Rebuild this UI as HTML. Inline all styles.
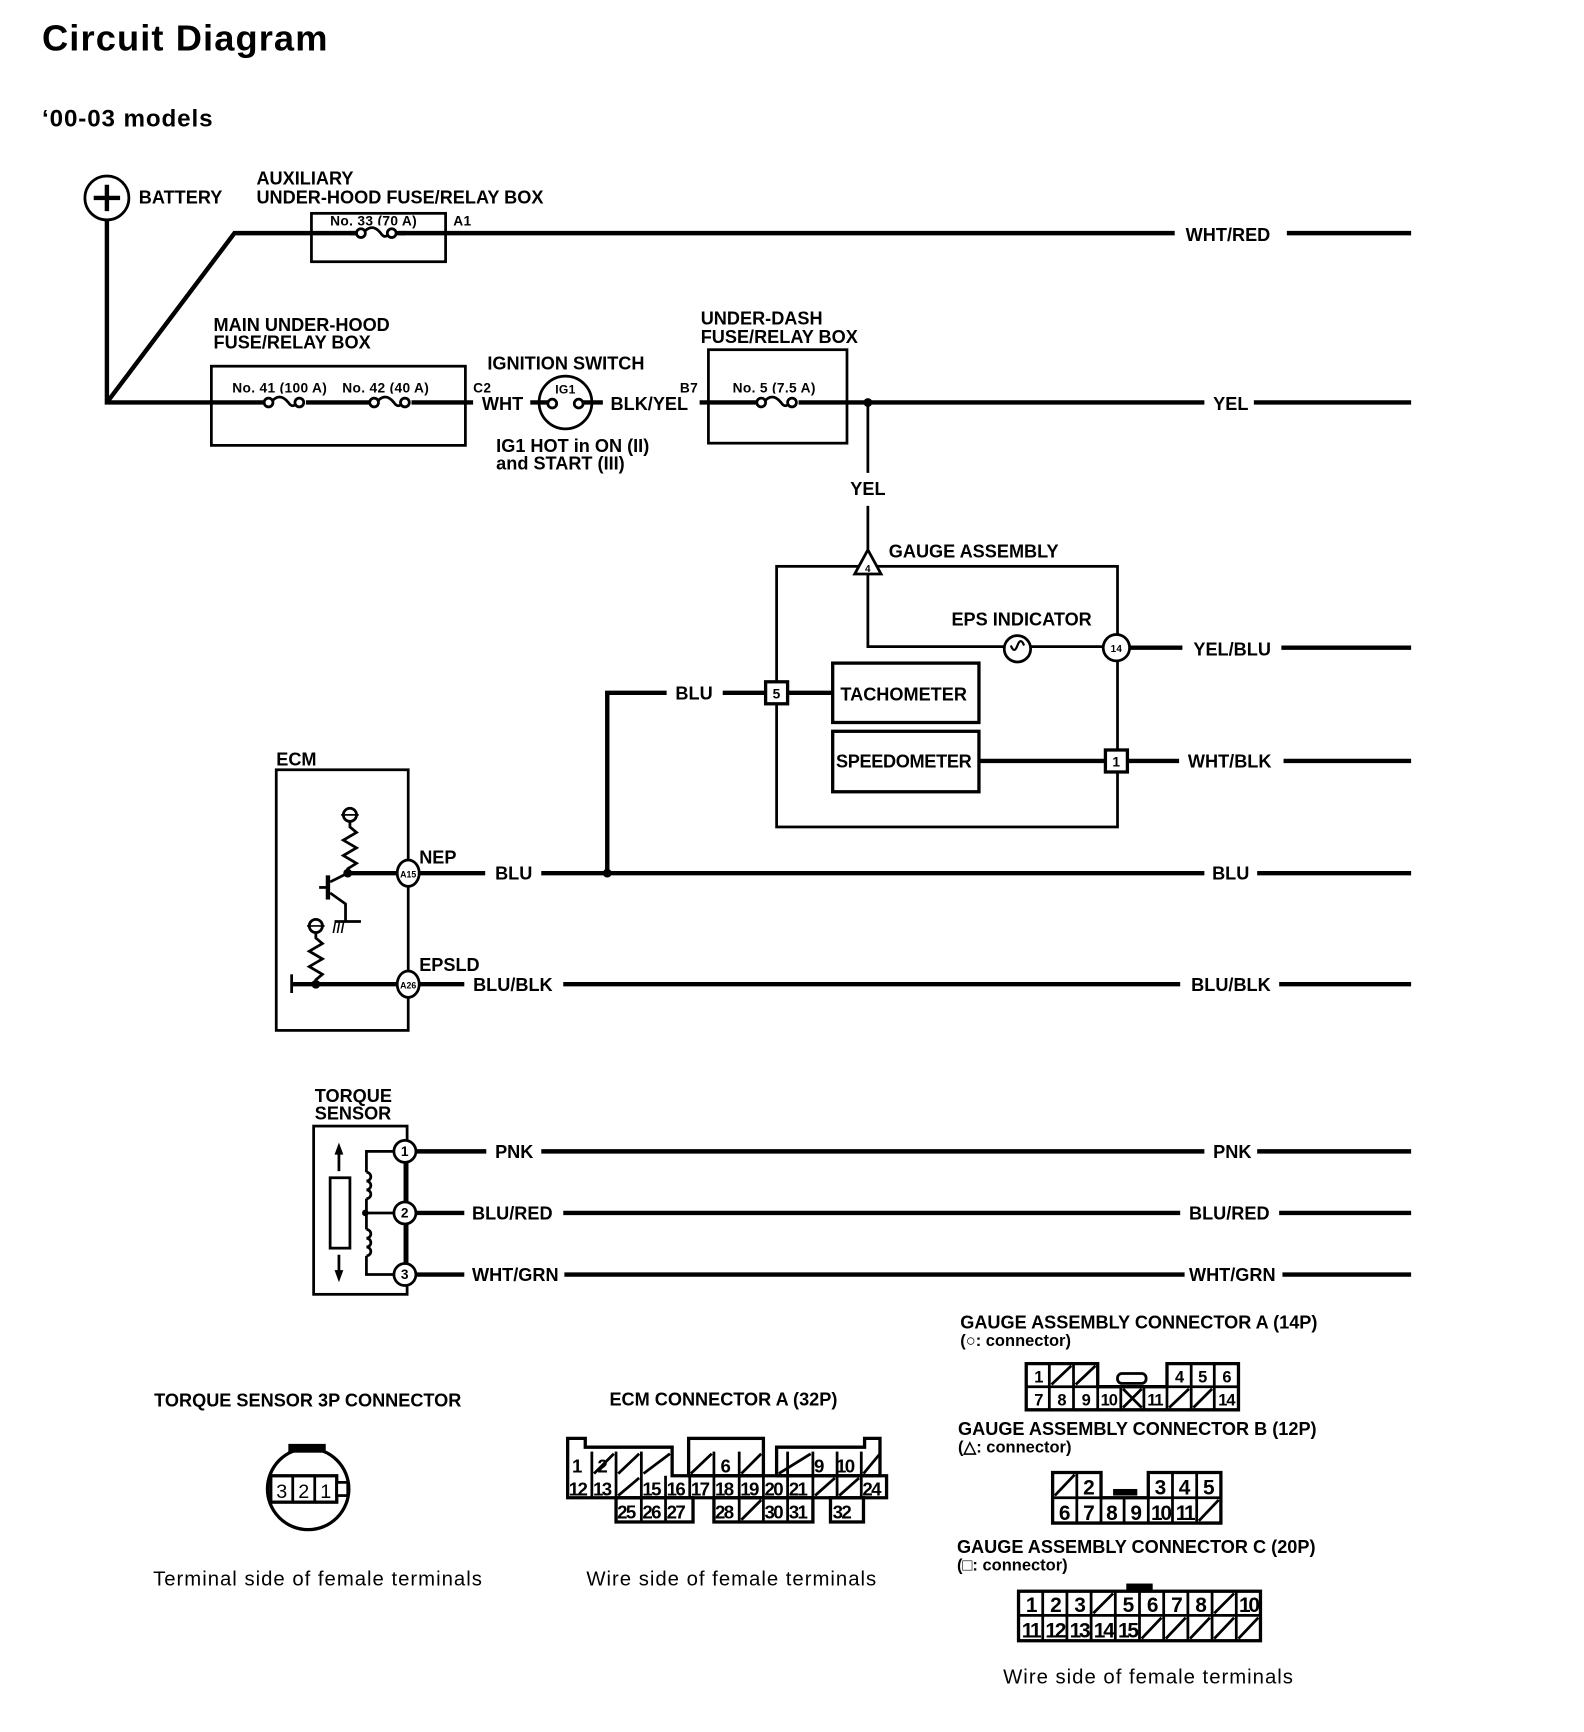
<!DOCTYPE html>
<html><head><meta charset="utf-8"><style>
html,body{margin:0;padding:0;background:#fff}
svg{display:block}
text{font-family:"Liberation Sans",sans-serif;font-weight:bold;fill:#000}
.t{font-size:16.5px;letter-spacing:0px}
.s{font-size:12.5px;letter-spacing:0.3px}
.c{font-size:15px;text-anchor:middle}
.r{font-size:18.5px;font-weight:normal;letter-spacing:0.9px}
.w{stroke:#000;stroke-width:4;fill:none}
.n{stroke:#000;stroke-width:2.5;fill:none}
.b{stroke:#000;stroke-width:2.5;fill:#fff}
.sl{stroke:#000;stroke-width:2.5}
</style></head><body>
<svg width="1584" height="1732" viewBox="0 0 1440 1575" xmlns="http://www.w3.org/2000/svg">
<text x="38" y="46" style="font-size:33px;letter-spacing:1px">Circuit Diagram</text>
<text x="38" y="115" style="font-size:22px;letter-spacing:0.8px">‘00-03 models</text>

<!-- battery -->
<circle cx="97" cy="180" r="20" class="n"/>
<line x1="85" y1="180" x2="109" y2="180" class="w"/><line x1="97" y1="168" x2="97" y2="192" class="w"/>
<text x="126" y="185" class="t">BATTERY</text>
<polyline points="97,200 97,366 430,366" class="w"/>
<polyline points="97,366 213,212 1068,212" class="w"/>
<line x1="1170" y1="212" x2="1283" y2="212" class="w"/>
<text x="1078" y="219" class="t">WHT/RED</text>

<!-- aux box -->
<text x="233" y="168" class="t">AUXILIARY</text>
<text x="233" y="185" class="t">UNDER-HOOD FUSE/RELAY BOX</text>
<rect x="283" y="194" width="122" height="44" class="n"/>
<text x="300" y="205" class="s">No. 33 (70 A)</text>
<text x="412" y="205" class="s">A1</text>
<rect x="324" y="205" width="38" height="14" fill="#fff"/>
<path d="M330,212 q8,-10 16,0 q4,6 8,0" class="n"/>
<circle cx="328" cy="212" r="4" class="b"/><circle cx="356" cy="212" r="4" class="b"/>
<line x1="318" y1="212" x2="324" y2="212" class="w"/><line x1="360" y1="212" x2="368" y2="212" class="w"/>

<!-- main box -->
<text x="194" y="301" class="t">MAIN UNDER-HOOD</text>
<text x="194" y="317" class="t">FUSE/RELAY BOX</text>
<rect x="192" y="333" width="231" height="72" class="n"/>
<text x="211" y="357" class="s">No. 41 (100 A)</text>
<text x="311" y="357" class="s">No. 42 (40 A)</text>
<rect x="240" y="358" width="38" height="14" fill="#fff"/>
<path d="M246,366 q8,-10 16,0 q4,6 8,0" class="n"/>
<circle cx="244" cy="366" r="4" class="b"/><circle cx="272" cy="366" r="4" class="b"/>
<rect x="336" y="358" width="38" height="14" fill="#fff"/>
<path d="M342,366 q8,-10 16,0 q4,6 8,0" class="n"/>
<circle cx="340" cy="366" r="4" class="b"/><circle cx="368" cy="366" r="4" class="b"/>
<text x="430" y="357" class="s">C2</text>
<text x="438" y="373" class="t">WHT</text>
<line x1="482" y1="366" x2="498" y2="366" class="w"/>
<circle cx="514" cy="366" r="24" class="n"/>
<text x="514" y="358" class="s" text-anchor="middle" style="font-size:11px">IG1</text>
<circle cx="502" cy="367" r="4" class="b"/><circle cx="526" cy="367" r="4" class="b"/>
<line x1="530" y1="366" x2="548" y2="366" class="w"/>
<text x="555" y="373" class="t">BLK/YEL</text>
<text x="443" y="336" class="t">IGNITION SWITCH</text>
<text x="451" y="411" class="t">IG1 HOT in ON (II)</text>
<text x="451" y="427" class="t">and START (III)</text>
<text x="618" y="357" class="s">B7</text>

<!-- under dash -->
<text x="637" y="295" class="t">UNDER-DASH</text>
<text x="637" y="312" class="t">FUSE/RELAY BOX</text>
<rect x="644" y="318" width="126" height="85" class="n"/>
<line x1="636" y1="366" x2="1095" y2="366" class="w"/>
<line x1="1140" y1="366" x2="1283" y2="366" class="w"/>
<text x="1103" y="373" class="t">YEL</text>
<text x="666" y="357" class="s">No. 5 (7.5 A)</text>
<rect x="688" y="358" width="38" height="14" fill="#fff"/>
<path d="M694,366 q8,-10 16,0 q4,6 8,0" class="n"/>
<circle cx="692" cy="366" r="4" class="b"/><circle cx="720" cy="366" r="4" class="b"/>
<circle cx="789" cy="366" r="4" fill="#000"/>
<line x1="789" y1="366" x2="789" y2="430" class="n"/>
<line x1="789" y1="460" x2="789" y2="502" class="n"/>
<text x="773" y="450" class="t">YEL</text>

<!-- gauge assembly -->
<rect x="706" y="515" width="310" height="237" class="n"/>
<text x="808" y="507" class="t">GAUGE ASSEMBLY</text>
<polyline points="789,508 789,588 1003,588" class="n"/>
<polygon points="789,500 777,522 801,522" class="b"/>
<text x="789" y="520" class="s" text-anchor="middle" style="font-size:9px">4</text>
<text x="865" y="569" class="t">EPS INDICATOR</text>
<circle cx="925" cy="590" r="12" class="b"/>
<path d="M919,587 q3,8 6,0 q3,-8 6,0" class="n" style="stroke-width:2"/>
<circle cx="1015" cy="589" r="12" class="b"/>
<text x="1015" y="593" class="s" text-anchor="middle" style="font-size:9px">14</text>
<line x1="1027" y1="589" x2="1075" y2="589" class="w"/>
<line x1="1165" y1="589" x2="1283" y2="589" class="w"/>
<text x="1085" y="596" class="t">YEL/BLU</text>
<polyline points="552,794 552,630 606,630" class="w"/>
<line x1="657" y1="630" x2="696" y2="630" class="w"/>
<line x1="716" y1="630" x2="757" y2="630" class="w"/>
<text x="614" y="636" class="t">BLU</text>
<rect x="696" y="620" width="20" height="20" class="b" style="stroke-width:3"/>
<text x="706" y="635" class="s" text-anchor="middle">5</text>
<rect x="757" y="603" width="133" height="54" class="n" style="stroke-width:3"/>
<text x="764" y="637" class="t">TACHOMETER</text>
<rect x="757" y="665" width="133" height="55" class="n" style="stroke-width:3"/>
<text x="760" y="698" class="t" style="letter-spacing:-0.3px">SPEEDOMETER</text>
<line x1="890" y1="692" x2="1005" y2="692" class="w"/>
<rect x="1005" y="682" width="20" height="20" class="b" style="stroke-width:3"/>
<text x="1015" y="697" class="s" text-anchor="middle">1</text>
<line x1="1025" y1="692" x2="1072" y2="692" class="w"/>
<line x1="1167" y1="692" x2="1283" y2="692" class="w"/>
<text x="1080" y="698" class="t">WHT/BLK</text>

<!-- ECM -->
<text x="251" y="696" class="t">ECM</text>
<rect x="251" y="700" width="120" height="237" class="n"/>
<circle cx="318" cy="741" r="6" class="b"/>
<line x1="310" y1="741" x2="326" y2="741" class="n" style="stroke-width:1.5"/>
<polyline points="318,747 318,752 324,757 312,764 324,771 312,778 324,785 316,790 316,794" class="n"/>
<circle cx="316" cy="794" r="4" fill="#000"/>
<line x1="316" y1="794" x2="360" y2="794" class="w"/>
<line x1="298" y1="796" x2="298" y2="818" class="w"/>
<line x1="298" y1="807" x2="290" y2="807" class="n"/>
<line x1="300" y1="802" x2="316" y2="794" class="n"/>
<polyline points="300,812 314,822 314,838" class="n"/>
<line x1="304" y1="838" x2="328" y2="838" class="n"/>
<text x="302" y="848" class="s">///</text>
<circle cx="287" cy="842" r="6" class="b"/>
<line x1="279" y1="842" x2="295" y2="842" class="n" style="stroke-width:1.5"/>
<polyline points="287,848 287,853 293,858 281,865 293,872 281,879 293,886 287,891 287,895" class="n"/>
<circle cx="287" cy="895" r="4" fill="#000"/>
<line x1="265" y1="895" x2="360" y2="895" class="w"/>
<line x1="265" y1="886" x2="265" y2="903" class="n"/>
<ellipse cx="371" cy="794" rx="10" ry="12" class="b"/>
<text x="371" y="798" class="s" text-anchor="middle" style="font-size:8px;letter-spacing:0">A15</text>
<ellipse cx="371" cy="895" rx="10" ry="12" class="b"/>
<text x="371" y="899" class="s" text-anchor="middle" style="font-size:8px;letter-spacing:0">A26</text>
<text x="381" y="785" class="t">NEP</text>
<text x="381" y="883" class="t">EPSLD</text>
<line x1="381" y1="794" x2="441" y2="794" class="w"/>
<line x1="492" y1="794" x2="1095" y2="794" class="w"/>
<line x1="1143" y1="794" x2="1283" y2="794" class="w"/>
<circle cx="552" cy="794" r="4" fill="#000"/>
<text x="450" y="800" class="t">BLU</text>
<text x="1102" y="800" class="t">BLU</text>
<line x1="381" y1="895" x2="422" y2="895" class="w"/>
<line x1="512" y1="895" x2="1073" y2="895" class="w"/>
<line x1="1163" y1="895" x2="1283" y2="895" class="w"/>
<text x="430" y="901" class="t">BLU/BLK</text>
<text x="1083" y="901" class="t">BLU/BLK</text>

<!-- torque sensor -->
<text x="286" y="1002" class="t">TORQUE</text>
<text x="286" y="1018" class="t">SENSOR</text>
<rect x="285" y="1024" width="85" height="153" class="n"/>
<rect x="300" y="1071" width="18" height="64" class="n"/>
<line x1="308" y1="1065" x2="308" y2="1045" class="n"/><polygon points="308,1039 304,1050 312,1050"/>
<line x1="308" y1="1141" x2="308" y2="1160" class="n"/><polygon points="308,1166 304,1155 312,1155"/>
<polyline points="358,1047 333,1047 333,1066" class="n"/>
<path d="M333,1066 a4,4 0 0,1 0,8 a4,4 0 0,1 0,8 a4,4 0 0,1 0,8" class="n"/>
<line x1="333" y1="1090" x2="333" y2="1103" class="n"/>
<circle cx="332" cy="1103" r="3" fill="#000"/>
<line x1="332" y1="1103" x2="358" y2="1103" class="n"/>
<line x1="333" y1="1103" x2="333" y2="1118" class="n"/>
<path d="M333,1118 a4,4 0 0,1 0,8 a4,4 0 0,1 0,8 a4,4 0 0,1 0,8" class="n"/>
<polyline points="333,1142 333,1159 358,1159" class="n"/>
<line x1="368" y1="1057" x2="368" y2="1149" class="n"/>
<circle cx="368" cy="1047" r="10" class="b"/><text x="368" y="1051" class="s" text-anchor="middle">1</text>
<circle cx="368" cy="1103" r="10" class="b"/><text x="368" y="1107" class="s" text-anchor="middle">2</text>
<circle cx="368" cy="1159" r="10" class="b"/><text x="368" y="1163" class="s" text-anchor="middle">3</text>
<line x1="378" y1="1047" x2="442" y2="1047" class="w"/>
<line x1="492" y1="1047" x2="1095" y2="1047" class="w"/>
<line x1="1143" y1="1047" x2="1283" y2="1047" class="w"/>
<text x="450" y="1053" class="t">PNK</text><text x="1103" y="1053" class="t">PNK</text>
<line x1="378" y1="1103" x2="422" y2="1103" class="w"/>
<line x1="512" y1="1103" x2="1073" y2="1103" class="w"/>
<line x1="1163" y1="1103" x2="1283" y2="1103" class="w"/>
<text x="429" y="1109" class="t">BLU/RED</text><text x="1081" y="1109" class="t">BLU/RED</text>
<line x1="378" y1="1159" x2="422" y2="1159" class="w"/>
<line x1="513" y1="1159" x2="1077" y2="1159" class="w"/>
<line x1="1166" y1="1159" x2="1283" y2="1159" class="w"/>
<text x="429" y="1165" class="t">WHT/GRN</text><text x="1081" y="1165" class="t">WHT/GRN</text>

<!-- torque 3P connector -->
<text x="140" y="1279" class="t">TORQUE SENSOR 3P CONNECTOR</text>
<circle cx="280" cy="1354" r="37" class="n" style="stroke-width:3"/>
<rect x="262" y="1313" width="34" height="8" fill="#000"/>
<rect x="246" y="1342" width="60" height="24" class="b" style="stroke-width:3"/>
<line x1="266" y1="1342" x2="266" y2="1366" class="n"/><line x1="286" y1="1342" x2="286" y2="1366" class="n"/>
<rect x="306" y="1348" width="10" height="12" class="b"/>
<text x="256" y="1362" class="c" style="font-size:18px;font-weight:normal">3</text><text x="276" y="1362" class="c" style="font-size:18px;font-weight:normal">2</text><text x="296" y="1362" class="c" style="font-size:18px;font-weight:normal">1</text>
<text x="139" y="1442" class="r">Terminal side of female terminals</text>

<!-- ECM connector A -->
<text x="554" y="1278" class="t">ECM CONNECTOR A (32P)</text>
<g>
<path d="M516,1308 H532 V1316 H611 V1342 H806 V1362 H516 Z" class="n" style="stroke-width:3"/>
<rect x="626" y="1308" width="68" height="34" class="n" style="stroke-width:3"/>
<path d="M706,1316 H786 V1308 H800 V1342 H706 Z" class="n" style="stroke-width:3"/>
<rect x="560" y="1362" width="70" height="22" class="n" style="stroke-width:3"/>
<rect x="649" y="1362" width="90" height="22" class="n" style="stroke-width:3"/>
<rect x="755" y="1362" width="30" height="22" class="n" style="stroke-width:3"/>
</g>
<g class="sl">
<line x1="538" y1="1320" x2="538" y2="1362"/><line x1="560" y1="1320" x2="560" y2="1362"/><line x1="583" y1="1320" x2="583" y2="1362"/>
<line x1="605" y1="1342" x2="605" y2="1384"/><line x1="627" y1="1342" x2="627" y2="1362"/><line x1="649" y1="1320" x2="649" y2="1362"/>
<line x1="672" y1="1320" x2="672" y2="1384"/><line x1="694" y1="1342" x2="694" y2="1384"/><line x1="716" y1="1320" x2="716" y2="1384"/>
<line x1="739" y1="1320" x2="739" y2="1362"/><line x1="761" y1="1320" x2="761" y2="1362"/><line x1="783" y1="1320" x2="783" y2="1362"/>
<line x1="583" y1="1384" x2="583" y2="1362"/>
<line x1="540" y1="1340" x2="558" y2="1322"/><line x1="562" y1="1340" x2="581" y2="1322"/><line x1="585" y1="1340" x2="609" y2="1322"/>
<line x1="628" y1="1340" x2="647" y2="1322"/><line x1="674" y1="1340" x2="692" y2="1322"/><line x1="708" y1="1340" x2="737" y2="1322"/>
<line x1="785" y1="1340" x2="800" y2="1322"/>
<line x1="562" y1="1360" x2="581" y2="1344"/><line x1="741" y1="1360" x2="759" y2="1344"/><line x1="763" y1="1360" x2="781" y2="1344"/>
<line x1="674" y1="1382" x2="692" y2="1364"/>
</g>
<g style="font-size:17px;letter-spacing:-1.5px">
<text x="520" y="1339">1</text><text x="543" y="1339">2</text><text x="655" y="1339">6</text><text x="740" y="1339">9</text><text x="760" y="1339">10</text>
<text x="517" y="1360">12</text><text x="539" y="1360">13</text><text x="584" y="1360">15</text><text x="606" y="1360">16</text><text x="628" y="1360">17</text><text x="650" y="1360">18</text><text x="673" y="1360">19</text><text x="695" y="1360">20</text><text x="717" y="1360">21</text><text x="784" y="1360">24</text>
<text x="561" y="1381">25</text><text x="584" y="1381">26</text><text x="606" y="1381">27</text><text x="650" y="1381">28</text><text x="695" y="1381">30</text><text x="717" y="1381">31</text><text x="757" y="1381">32</text>
</g>
<text x="533" y="1442" class="r">Wire side of female terminals</text>

<!-- gauge connector A -->
<text x="873" y="1208" class="t">GAUGE ASSEMBLY CONNECTOR A (14P)</text>
<text x="873" y="1224" class="t" style="font-size:15px">(○: connector)</text>
<path d="M933,1240 H998 V1261 H1061 V1240 H1126 V1282 H933 Z" class="n" style="stroke-width:3"/>
<rect x="1016" y="1249" width="26" height="9" rx="4" class="b"/>
<g class="sl">
<line x1="933" y1="1261" x2="1126" y2="1261"/>
<line x1="954" y1="1240" x2="954" y2="1282"/><line x1="976" y1="1240" x2="976" y2="1282"/><line x1="998" y1="1261" x2="998" y2="1282"/>
<line x1="1019" y1="1261" x2="1019" y2="1282"/><line x1="1040" y1="1261" x2="1040" y2="1282"/><line x1="1061" y1="1240" x2="1061" y2="1282"/>
<line x1="1083" y1="1240" x2="1083" y2="1282"/><line x1="1104" y1="1240" x2="1104" y2="1282"/>
<line x1="956" y1="1259" x2="974" y2="1242"/><line x1="978" y1="1259" x2="996" y2="1242"/>
<line x1="1063" y1="1280" x2="1081" y2="1263"/><line x1="1085" y1="1280" x2="1102" y2="1263"/>
<line x1="1021" y1="1263" x2="1038" y2="1280"/><line x1="1021" y1="1280" x2="1038" y2="1263"/>
</g>
<g class="c" style="font-size:15px;letter-spacing:-1px">
<text x="944" y="1257">1</text><text x="1072" y="1257">4</text><text x="1093" y="1257">5</text><text x="1115" y="1257">6</text>
<text x="944" y="1278">7</text><text x="965" y="1278">8</text><text x="987" y="1278">9</text><text x="1008" y="1278">10</text><text x="1050" y="1278">11</text><text x="1115" y="1278">14</text>
</g>

<!-- gauge connector B -->
<text x="871" y="1305" class="t">GAUGE ASSEMBLY CONNECTOR B (12P)</text>
<text x="871" y="1321" class="t" style="font-size:15px">(△: connector)</text>
<path d="M957,1339 H1001 V1362 H1044 V1339 H1110 V1385 H957 Z" class="n" style="stroke-width:3"/>
<rect x="1012" y="1354" width="22" height="6" fill="#000"/>
<g class="sl">
<line x1="957" y1="1362" x2="1110" y2="1362"/>
<line x1="979" y1="1339" x2="979" y2="1385"/><line x1="1001" y1="1362" x2="1001" y2="1385"/><line x1="1022" y1="1362" x2="1022" y2="1385"/>
<line x1="1044" y1="1362" x2="1044" y2="1385"/><line x1="1066" y1="1339" x2="1066" y2="1385"/><line x1="1088" y1="1339" x2="1088" y2="1385"/>
<line x1="959" y1="1360" x2="977" y2="1341"/><line x1="1090" y1="1383" x2="1108" y2="1364"/>
</g>
<g class="c" style="font-size:19px;font-weight:normal">
<text x="990" y="1359">2</text><text x="1055" y="1359">3</text><text x="1077" y="1359">4</text><text x="1099" y="1359">5</text>
<text x="968" y="1382">6</text><text x="990" y="1382">7</text><text x="1011" y="1382">8</text><text x="1033" y="1382">9</text><text x="1055" y="1382" style="letter-spacing:-2px">10</text><text x="1077" y="1382" style="letter-spacing:-2px">11</text>
</g>

<!-- gauge connector C -->
<text x="870" y="1412" class="t">GAUGE ASSEMBLY CONNECTOR C (20P)</text>
<text x="870" y="1428" class="t" style="font-size:15px">(□: connector)</text>
<rect x="1024" y="1440" width="24" height="8" fill="#000"/>
<rect x="926" y="1447" width="220" height="45" class="n" style="stroke-width:3"/>
<g class="sl">
<line x1="926" y1="1469" x2="1146" y2="1469"/>
<line x1="948" y1="1447" x2="948" y2="1492"/><line x1="970" y1="1447" x2="970" y2="1492"/><line x1="992" y1="1447" x2="992" y2="1492"/>
<line x1="1014" y1="1447" x2="1014" y2="1492"/><line x1="1036" y1="1447" x2="1036" y2="1492"/><line x1="1058" y1="1447" x2="1058" y2="1492"/>
<line x1="1080" y1="1447" x2="1080" y2="1492"/><line x1="1102" y1="1447" x2="1102" y2="1492"/><line x1="1124" y1="1447" x2="1124" y2="1492"/>
<line x1="994" y1="1467" x2="1012" y2="1449"/><line x1="1104" y1="1467" x2="1122" y2="1449"/>
<line x1="1038" y1="1490" x2="1056" y2="1471"/><line x1="1060" y1="1490" x2="1078" y2="1471"/><line x1="1082" y1="1490" x2="1100" y2="1471"/><line x1="1104" y1="1490" x2="1122" y2="1471"/><line x1="1126" y1="1490" x2="1144" y2="1471"/>
</g>
<g class="c" style="font-size:19px;font-weight:normal;letter-spacing:-2px">
<text x="937" y="1466">1</text><text x="959" y="1466">2</text><text x="981" y="1466">3</text><text x="1025" y="1466">5</text><text x="1047" y="1466">6</text><text x="1069" y="1466">7</text><text x="1091" y="1466">8</text><text x="1135" y="1466">10</text>
<text x="937" y="1489">11</text><text x="959" y="1489">12</text><text x="981" y="1489">13</text><text x="1003" y="1489">14</text><text x="1025" y="1489">15</text>
</g>
<text x="912" y="1531" class="r">Wire side of female terminals</text>
</svg>
</body></html>
